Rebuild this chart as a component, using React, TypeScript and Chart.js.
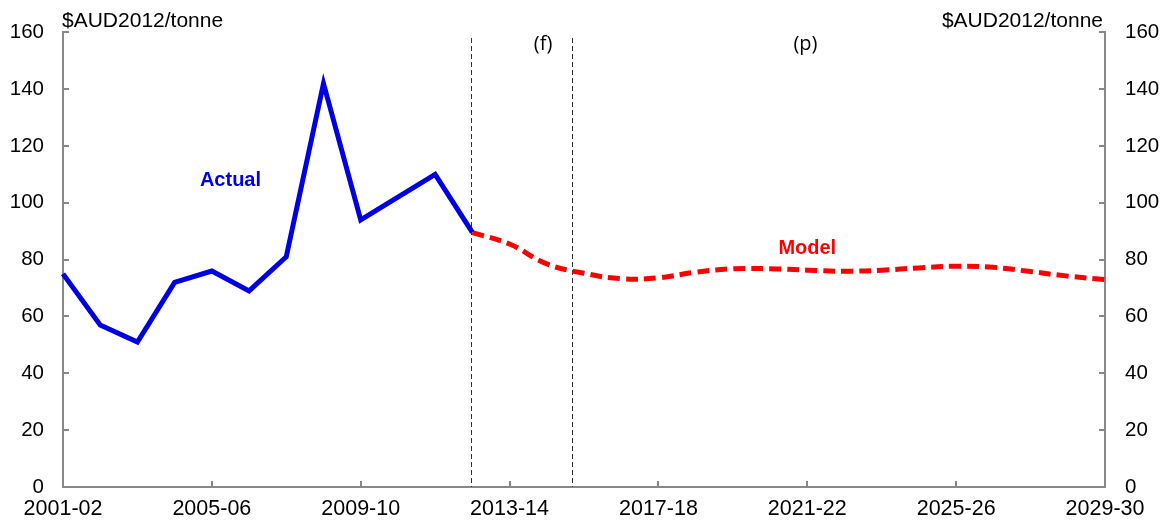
import React, { useEffect, useRef } from "react";
import { Chart, registerables } from "chart.js";

Chart.register(...registerables);

const categories = [
  "2001-02", "2002-03", "2003-04", "2004-05", "2005-06", "2006-07", "2007-08",
  "2008-09", "2009-10", "2010-11", "2011-12", "2012-13", "2013-14", "2014-15",
  "2015-16", "2016-17", "2017-18", "2018-19", "2019-20", "2020-21", "2021-22",
  "2022-23", "2023-24", "2024-25", "2025-26", "2026-27", "2027-28", "2028-29",
  "2029-30",
];

const actualValues = [75, 57, 51, 72, 76, 69, 81, 142, 94, 102, 110, 89.6];

const modelValues = [
  89.5, 85.5, 78.5, 75.2, 73.3, 73.6, 75.6, 76.8, 76.8, 76.3, 75.9, 76.3,
  77.1, 77.7, 77.3, 75.8, 74.2, 73.0,
];
const modelStartIndex = 11;

const yTicks = [0, 20, 40, 60, 80, 100, 120, 140, 160];
const xLabelEvery = 4;

// vertical dashed markers (category index positions)
const markerPositions = [10.97, 13.68];
const periodLabels = [
  { text: "(f)", index: 12.9 },
  { text: "(p)", index: 19.95 },
];
const seriesLabels = [
  { text: "Actual", index: 4.5, value: 108, color: "#0000E0" },
  { text: "Model", index: 20.0, value: 84, color: "#FF0000" },
];
const unitLabel = "$AUD2012/tonne";

const W = 1169;
const H = 522;
const FONT = "Arial, 'Liberation Sans', sans-serif";

export default function App() {
  const ref = useRef<HTMLCanvasElement | null>(null);

  useEffect(() => {
    const canvas = ref.current;
    if (!canvas) return;

    const actualData = categories.map((_, i) =>
      i < actualValues.length ? actualValues[i] : null
    );
    const modelData = categories.map((_, i) =>
      i >= modelStartIndex && i - modelStartIndex < modelValues.length
        ? modelValues[i - modelStartIndex]
        : null
    );

    const overlay = {
      id: "overlay",
      beforeDatasetsDraw(chart: any) {
        const ctx = chart.ctx;
        const xs = chart.scales.x;
        const area = chart.chartArea;
        ctx.save();
        ctx.strokeStyle = "#333333";
        ctx.lineWidth = 1;
        ctx.setLineDash([5, 3]);
        for (const m of markerPositions) {
          const px = Math.round(xs.getPixelForValue(m)) + 0.5;
          ctx.beginPath();
          ctx.moveTo(px, 38);
          ctx.lineTo(px, area.bottom);
          ctx.stroke();
        }
        ctx.restore();
      },
      afterDraw(chart: any) {
        const ctx = chart.ctx;
        const xs = chart.scales.x;
        const yl = chart.scales.y;
        const yr = chart.scales.y2;
        const area = chart.chartArea;
        ctx.save();
        ctx.strokeStyle = "#888888";
        ctx.lineWidth = 2;
        ctx.setLineDash([]);
        // inward ticks
        for (const v of yTicks) {
          const py = Math.round(yl.getPixelForValue(v));
          ctx.beginPath();
          ctx.moveTo(area.left, py);
          ctx.lineTo(area.left + 6, py);
          ctx.stroke();
          const pr = Math.round(yr.getPixelForValue(v));
          ctx.beginPath();
          ctx.moveTo(area.right, pr);
          ctx.lineTo(area.right - 6, pr);
          ctx.stroke();
        }
        categories.forEach((_, i) => {
          if (i % xLabelEvery !== 0) return;
          const px = Math.round(xs.getPixelForValue(i));
          ctx.beginPath();
          ctx.moveTo(px, area.bottom);
          ctx.lineTo(px, area.bottom - 6);
          ctx.stroke();
        });

        // unit labels
        ctx.fillStyle = "#000000";
        ctx.font = `21px ${FONT}`;
        ctx.textBaseline = "middle";
        ctx.textAlign = "left";
        ctx.fillText(unitLabel, area.left - 1, 21);
        ctx.textAlign = "right";
        ctx.fillText(unitLabel, area.right - 2, 21);

        // period labels
        ctx.font = `20px 'Open Sans', 'Noto Sans', sans-serif`;
        ctx.textAlign = "center";
        for (const p of periodLabels) {
          ctx.fillText(p.text, xs.getPixelForValue(p.index), 44);
        }

        // series labels
        ctx.font = `bold 20px ${FONT}`;
        for (const s of seriesLabels) {
          ctx.fillStyle = s.color;
          ctx.fillText(s.text, xs.getPixelForValue(s.index), yl.getPixelForValue(s.value));
        }
        ctx.restore();
      },
    };

    const chart = new Chart(canvas, {
      type: "line",
      data: {
        labels: categories,
        datasets: [
          {
            label: "Actual",
            data: actualData,
            borderColor: "#0000E0",
            borderWidth: 5,
            pointRadius: 0,
            tension: 0,
            borderJoinStyle: "miter",
            yAxisID: "y",
          },
          {
            label: "Model",
            data: modelData,
            borderColor: "#FF0000",
            borderWidth: 5,
            borderDash: [12, 6],
            pointRadius: 0,
            tension: 0.4,
            yAxisID: "y",
          },
        ],
      },
      options: {
        responsive: false,
        animation: false,
        devicePixelRatio: 1,
        layout: { padding: { top: 31, left: 0, right: 0, bottom: 0 } },
        plugins: {
          legend: { display: false },
          tooltip: { enabled: false },
        },
        scales: {
          x: {
            type: "category",
            offset: false,
            grid: { display: true, drawOnChartArea: false, drawTicks: false },
            border: { display: true, color: "#888888", width: 2 },
            ticks: {
              autoSkip: false,
              maxRotation: 0,
              minRotation: 0,
              padding: 9,
              color: "#000000",
              font: { family: FONT, size: 21.5 },
              callback: (_v: any, i: number) =>
                i % xLabelEvery === 0 ? categories[i] : null,
            },
            afterFit: (s: any) => {
              s.height = 35;
            },
          },
          y: {
            position: "left",
            min: 0,
            max: 160,
            grid: { display: true, drawOnChartArea: false, drawTicks: false },
            border: { display: true, color: "#888888", width: 2 },
            ticks: {
              stepSize: 20,
              padding: 19,
              color: "#000000",
              font: { family: FONT, size: 20.5 },
            },
            afterFit: (s: any) => {
              s.width = 63;
            },
          },
          y2: {
            position: "right",
            min: 0,
            max: 160,
            grid: { display: true, drawOnChartArea: false, drawTicks: false },
            border: { display: true, color: "#888888", width: 2 },
            ticks: {
              stepSize: 20,
              padding: 20,
              color: "#000000",
              font: { family: FONT, size: 20.5 },
            },
            afterFit: (s: any) => {
              s.width = 64;
            },
          },
        },
      },
      plugins: [overlay],
    });

    return () => chart.destroy();
  }, []);

  return (
    <div style={{ position: "absolute", left: 0, top: 0, width: W, height: H, background: "#fff" }}>
      <canvas ref={ref} width={W} height={H} style={{ width: W, height: H, display: "block" }} />
    </div>
  );
}
